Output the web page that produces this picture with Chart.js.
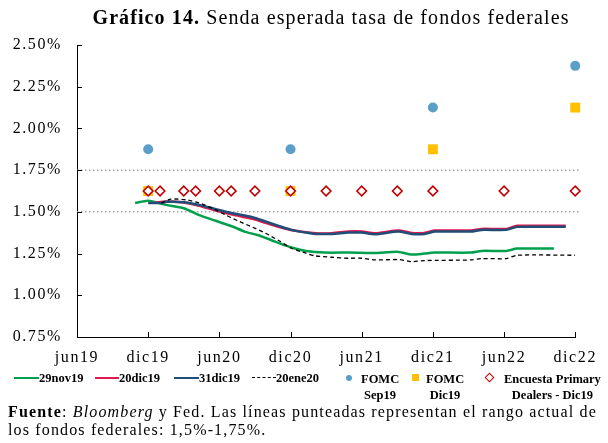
<!DOCTYPE html>
<html>
<head>
<meta charset="utf-8">
<script src="https://cdn.jsdelivr.net/npm/chart.js@4"></script>
<style>
  body { margin: 0; background: #fff; overflow: hidden; }
  #wrap { position: relative; width: 608px; height: 443px; font-family: "Liberation Serif", "Times New Roman", serif; color: #000; }
  #chart { position: absolute; left: 0; top: 0; }
  #title { position: absolute; left: 0; top: 6px; width: 608px; text-align: center; font-size: 20px; letter-spacing: 1.1px; padding-left: 54px; box-sizing: border-box; }
  .lg { position: absolute; font-size: 12.5px; font-weight: bold; line-height: 14px; white-space: nowrap; }
  .mk { position: absolute; }
  #note { position: absolute; left: 8px; top: 403px; width: 598px; font-size: 16px; line-height: 18px; letter-spacing: 1.15px; }
</style>
</head>
<body>
<div id="wrap">
  <canvas id="chart" width="608" height="443"></canvas>
  <div id="title"><b>Gráfico 14.</b> Senda esperada tasa de fondos federales</div>
  <div id="legend"></div>
  <div id="note"><b>Fuente</b>: <i>Bloomberg</i> y Fed. Las líneas punteadas representan el rango actual de los fondos federales: 1,5%-1,75%.</div>
</div>
<script>
// ==========================================
// 1. DATA (x = months since jun19)
// ==========================================
const xTickLabels = ['jun19', 'dic19', 'jun20', 'dic20', 'jun21', 'dic21', 'jun22', 'dic22'];

const nov29X = [4.9, 6, 7.5, 9, 10.3, 11.7, 13.1, 14.2, 15.3, 16.4, 18, 19.3, 20.9, 22.9, 25.1, 27.1, 28.2, 29.3, 30.1, 33.2, 34.1, 36.2, 37.1, 40.2];
const nov29Y = [1.553, 1.567, 1.542, 1.522, 1.48, 1.447, 1.412, 1.38, 1.36, 1.33, 1.288, 1.266, 1.256, 1.256, 1.254, 1.26, 1.244, 1.25, 1.256, 1.256, 1.266, 1.266, 1.28, 1.28];

const dic20X = [6.6, 7.5, 9, 10.3, 11.7, 13.1, 14.8, 15.9, 17, 18.1, 20.1, 21.5, 22.9, 24, 25.1, 27.1, 28.2, 29.3, 30.2, 33.2, 34.1, 36.2, 37.1, 41.2];
const dic20Y = [1.555, 1.562, 1.556, 1.536, 1.508, 1.484, 1.458, 1.434, 1.41, 1.39, 1.372, 1.372, 1.382, 1.382, 1.372, 1.388, 1.374, 1.374, 1.388, 1.388, 1.398, 1.398, 1.416, 1.416];

const dic31X = [6, 7.1, 7.5, 9, 10.3, 11.7, 13.1, 14.8, 15.9, 17, 18.1, 20.1, 21.5, 22.9, 24, 25.1, 27.1, 28.2, 29.3, 30.2, 33.2, 34.1, 36.2, 37.1, 41.2];
const dic31Y = [1.553, 1.553, 1.56, 1.558, 1.542, 1.516, 1.492, 1.468, 1.442, 1.416, 1.392, 1.368, 1.368, 1.376, 1.376, 1.366, 1.382, 1.368, 1.368, 1.382, 1.382, 1.392, 1.392, 1.41, 1.41];

const ene20X = [7.1, 7.9, 9.2, 10.3, 11.4, 12.5, 13.7, 14.8, 15.9, 17, 18.1, 19.3, 20.1, 21.5, 22.9, 24, 25.1, 27.1, 28.2, 29.3, 33.2, 34.1, 36.2, 37.1, 42];
const ene20Y = [1.553, 1.576, 1.572, 1.553, 1.522, 1.482, 1.442, 1.408, 1.372, 1.328, 1.282, 1.252, 1.236, 1.228, 1.222, 1.222, 1.212, 1.214, 1.202, 1.208, 1.212, 1.22, 1.22, 1.24, 1.24];

const fomcX = [6, 18, 30, 42];
const fomcSep19 = [1.875, 1.875, 2.125, 2.375];
const fomcDic19 = [1.625, 1.625, 1.875, 2.125];

const dealersX = [6, 7, 9, 10, 12, 13, 15, 18, 21, 24, 27, 30, 36, 42];
const dealersY = [1.625, 1.625, 1.625, 1.625, 1.625, 1.625, 1.625, 1.625, 1.625, 1.625, 1.625, 1.625, 1.625, 1.625];

const rangeX = [0, 42.4];
const rangeLow = [1.5, 1.5];
const rangeHigh = [1.75, 1.75];

const zip = (xs, ys) => xs.map((x, i) => ({ x: x, y: ys[i] }));

// ==========================================
// 2. PLUGINS: wide axis text + inside tick marks
// ==========================================
const wideText = {
  id: 'wideText',
  beforeUpdate(chart) { chart.ctx.letterSpacing = '1.6px'; },
  beforeDraw(chart) { chart.ctx.letterSpacing = '1.6px'; }
};

const innerTicks = {
  id: 'innerTicks',
  afterDraw(chart) {
    const ctx = chart.ctx;
    const xs = chart.scales.x, ys = chart.scales.y;
    ctx.save();
    ctx.strokeStyle = '#000';
    ctx.lineWidth = 1;
    ctx.beginPath();
    ys.ticks.forEach(t => {
      const py = Math.round(ys.getPixelForValue(t.value)) + 0.5;
      ctx.moveTo(xs.left, py);
      ctx.lineTo(xs.left + 5, py);
    });
    xs.ticks.forEach(t => {
      const px = Math.round(xs.getPixelForValue(t.value)) + 0.5;
      ctx.moveTo(px, ys.bottom);
      ctx.lineTo(px, ys.bottom - 5);
    });
    ctx.stroke();
    ctx.restore();
  }
};

const lineStyle = (color) => ({
  borderColor: color, backgroundColor: color, borderWidth: 2.5,
  pointRadius: 0, tension: 0.25, fill: false
});

new Chart(document.getElementById('chart'), {
  type: 'line',
  data: {
    datasets: [
      { label: 'Dealers', data: zip(dealersX, dealersY), showLine: false, pointStyle: 'rectRot', clip: false,
        pointRadius: 4.8, borderColor: '#C00000', backgroundColor: '#fff', pointBorderWidth: 1.6, order: 0 },
      { label: 'FOMC Dic19', data: zip(fomcX, fomcDic19), showLine: false, pointStyle: 'rect', clip: false,
        pointRadius: 7, borderColor: '#FFC000', backgroundColor: '#FFC000', pointBorderWidth: 0, order: 1 },
      { label: 'FOMC Sep19', data: zip(fomcX, fomcSep19), showLine: false, pointStyle: 'circle', clip: false,
        pointRadius: 5, borderColor: '#5B9FC9', backgroundColor: '#5B9FC9', pointBorderWidth: 0, order: 2 },
      { label: '20ene20', data: zip(ene20X, ene20Y), ...lineStyle('#000'), borderWidth: 1.3, borderDash: [4, 3], order: 3 },
      { label: '31dic19', data: zip(dic31X, dic31Y), ...lineStyle('#1F4E79'), order: 4 },
      { label: '20dic19', data: zip(dic20X, dic20Y), ...lineStyle('#E0184C'), order: 5 },
      { label: '29nov19', data: zip(nov29X, nov29Y), ...lineStyle('#00A04C'), order: 6 },
      { label: 'hi', data: zip(rangeX, rangeHigh), borderColor: '#A6A6A6', borderWidth: 1.5, borderDash: [1.5, 2.5], pointRadius: 0, clip: false, order: 9 },
      { label: 'lo', data: zip(rangeX, rangeLow), borderColor: '#A6A6A6', borderWidth: 1.5, borderDash: [1.5, 2.5], pointRadius: 0, clip: false, order: 9 }
    ]
  },
  options: {
    responsive: false,
    animation: false,
    devicePixelRatio: 1,
    layout: { padding: { left: 0, top: 45, right: 30, bottom: 76 } },
    plugins: { legend: { display: false }, tooltip: { enabled: false } },
    scales: {
      x: {
        type: 'linear', min: 0, max: 42,
        grid: { display: true, drawOnChartArea: false, drawTicks: false },
        border: { color: '#000', width: 1 },
        ticks: {
          stepSize: 6, autoSkip: false, maxRotation: 0, padding: 11,
          color: '#000', font: { family: 'Liberation Serif', size: 16 },
          callback: (v) => xTickLabels[v / 6]
        },
        afterFit: (s) => { s.height = 30; }
      },
      y: {
        min: 0.75, max: 2.5,
        grid: { display: true, drawOnChartArea: false, drawTicks: false },
        border: { color: '#000', width: 1 },
        ticks: {
          stepSize: 0.25, padding: 15,
          color: '#000', font: { family: 'Liberation Serif', size: 16 },
          callback: (v) => v.toFixed(2) + '%'
        },
        afterFit: (s) => { s.width = 77; }
      }
    }
  },
  plugins: [wideText, innerTicks]
});

// ==========================================
// 3. HTML LEGEND
// ==========================================
const legendItems = [
  { kind: 'line', color: '#00A04C', mx: 14, mw: 25, text: ['29nov19'], tx: 39 },
  { kind: 'line', color: '#E0184C', mx: 95, mw: 24, text: ['20dic19'], tx: 119 },
  { kind: 'line', color: '#1F4E79', mx: 174, mw: 25, text: ['31dic19'], tx: 199 },
  { kind: 'dash', color: '#000', mx: 252, mw: 24, text: ['20ene20'], tx: 276 },
  { kind: 'dot', color: '#5B9FC9', mx: 349, text: ['FOMC', 'Sep19'], tx: 361 },
  { kind: 'sq', color: '#FFC000', mx: 415, text: ['FOMC', 'Dic19'], tx: 426 },
  { kind: 'dia', color: '#C00000', mx: 489, text: ['Encuesta Primary', 'Dealers - Dic19'], tx: 504 }
];
const legendEl = document.getElementById('legend');
const rowY = 378;
legendItems.forEach(it => {
  const m = document.createElement('div');
  m.className = 'mk';
  if (it.kind === 'line' || it.kind === 'dash') {
    m.style.left = it.mx + 'px';
    m.style.top = (rowY - 1) + 'px';
    m.style.width = it.mw + 'px';
    m.style.borderTop = (it.kind === 'dash' ? '1.5px dashed ' : '2.5px solid ') + it.color;
  } else if (it.kind === 'dot') {
    Object.assign(m.style, { left: (it.mx - 3) + 'px', top: (rowY - 3) + 'px', width: '6px', height: '6px', borderRadius: '50%', background: it.color });
  } else if (it.kind === 'sq') {
    Object.assign(m.style, { left: (it.mx - 3.5) + 'px', top: (rowY - 4) + 'px', width: '7px', height: '7px', background: it.color });
  } else {
    Object.assign(m.style, { left: (it.mx - 3.5) + 'px', top: (rowY - 4) + 'px', width: '5px', height: '5px', border: '1.6px solid ' + it.color, transform: 'rotate(45deg)', background: '#fff' });
  }
  legendEl.appendChild(m);
  const t = document.createElement('div');
  t.className = 'lg';
  t.style.left = it.tx + 'px';
  t.style.top = (rowY - 7) + 'px';
  t.style.textAlign = 'center';
  t.innerHTML = it.text.join('<br>');
  if (it.text.length > 1) t.style.lineHeight = '16px';
  legendEl.appendChild(t);
});
</script>
</body>
</html>
